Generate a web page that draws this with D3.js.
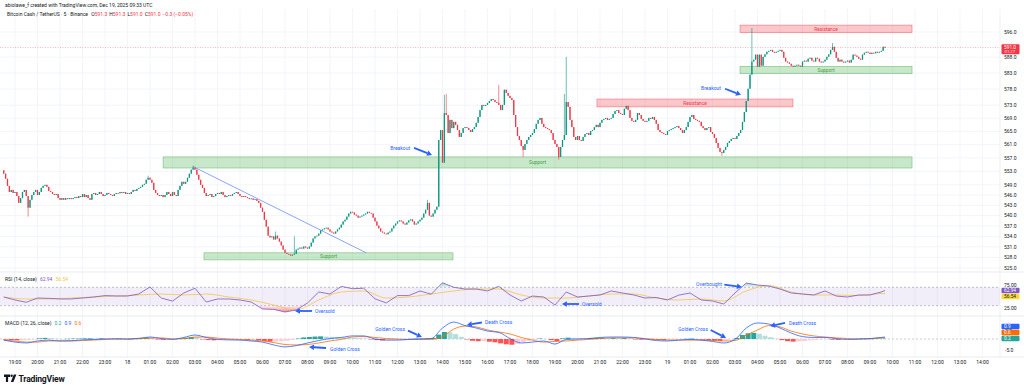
<!DOCTYPE html>
<html>
<head>
<meta charset="utf-8">
<script src="https://cdn.jsdelivr.net/npm/d3@7"></script>
<style>
  html, body { margin: 0; padding: 0; background: #fff; }
  svg { display: block; font-family: Roboto, "Liberation Sans", Arial, sans-serif; }
</style>
</head>
<body>
<svg id="chart" width="1024" height="385"></svg>
<script>
// BCH/USDT 5m closes, one row per hour (first row starts 18:30, Dec 17)
const firstOpen = 553.3;
const closes = [
  552.3, 550.8, 548.7, 546.9, 547.5, 546.6,
  546.9, 545.7, 543.7, 545.1, 546.9, 547.5, 545.7, 542.3, 544.6, 546.0, 546.9, 547.5, // 19:00
  546.0, 546.9, 548.1, 548.7, 549.0, 548.4, 547.2, 546.9, 546.3, 546.0, 546.3, 545.1,
  544.6, 545.1, 544.6, 545.1, 544.8, 545.1, 544.8, 545.1, 545.4, 545.1, 545.7, 545.4,
  546.3, 545.4, 546.0, 545.1, 544.6, 546.3, 546.6, 546.0, 546.3, 546.9, 546.3, 545.7,
  546.0, 546.6, 546.3, 546.0, 545.7, 546.3, 546.6, 546.5, 546.9, 546.6, 546.9, 546.3,
  546.6, 546.3, 546.9, 547.5, 547.2, 547.8, 548.1, 548.4, 549.0, 549.3, 550.5, 551.1, // 00:00
  550.5, 549.6, 547.5, 546.6, 546.0, 545.7, 546.0, 545.4, 546.0, 546.9, 546.3, 545.7,
  546.9, 546.0, 545.7, 547.5, 548.7, 549.9, 549.3, 549.9, 551.1, 552.3, 553.5, 554.1,
  553.5, 552.0, 550.5, 549.0, 548.1, 546.6, 545.7, 546.0, 546.3, 545.4, 545.7, 546.3,
  546.6, 546.3, 546.9, 546.0, 545.4, 545.7, 546.0, 545.8, 546.3, 546.6, 546.9, 546.3,
  545.7, 545.4, 545.7, 545.4, 545.1, 544.8, 545.0, 544.6, 544.8, 544.3, 543.7, 542.3,
  541.1, 538.8, 536.8, 534.2, 533.7, 534.0, 533.1, 534.2, 533.4, 532.5, 531.4, 530.2, // 06:00
  529.3, 529.0, 528.8, 528.5, 528.8, 529.0, 530.2, 530.5, 530.8, 530.5, 531.1, 530.8,
  530.5, 531.1, 532.2, 533.4, 534.0, 534.2, 534.8, 535.7, 536.0, 536.3, 536.5, 536.0,
  535.4, 535.1, 534.8, 535.4, 536.0, 536.5, 537.4, 538.3, 538.8, 539.7, 540.6, 541.1,
  540.9, 540.3, 540.0, 539.4, 539.7, 540.0, 540.3, 540.6, 541.1, 540.8, 540.6, 539.4,
  538.3, 537.1, 536.3, 535.4, 535.1, 534.8, 534.6, 535.1, 535.4, 536.3, 537.1, 537.7,
  538.3, 538.6, 538.3, 537.7, 537.4, 538.0, 538.6, 538.9, 538.3, 537.4, 537.7, 538.3, // 12:00
  538.8, 539.4, 540.6, 541.7, 543.7, 540.0, 539.7, 540.6, 541.7, 542.6, 562.4, 565.4,
  555.6, 570.6, 570.0, 564.5, 568.5, 566.0, 567.9, 567.0, 565.4, 563.3, 564.5, 566.0,
  566.3, 566.0, 565.4, 564.8, 565.7, 566.3, 567.6, 569.4, 571.5, 573.1, 572.8, 573.1,
  573.7, 574.3, 574.9, 574.6, 574.0, 573.7, 573.1, 571.5, 573.1, 577.8, 576.8, 575.9,
  575.2, 574.6, 570.0, 566.3, 563.6, 562.4, 560.6, 559.4, 561.2, 562.4, 563.3, 563.9,
  564.5, 565.7, 567.3, 568.5, 569.1, 567.3, 566.3, 566.0, 565.7, 565.4, 564.5, 562.4, // 18:00
  561.2, 560.3, 557.3, 560.3, 562.4, 563.9, 574.0, 572.5, 568.5, 566.3, 563.3, 562.4,
  563.6, 562.4, 562.1, 563.3, 564.2, 564.5, 563.9, 565.1, 565.4, 566.3, 567.0, 566.3,
  567.6, 568.5, 568.8, 569.1, 568.5, 568.8, 569.1, 570.3, 571.2, 571.5, 570.6, 570.3,
  570.0, 571.9, 572.8, 571.5, 569.1, 568.2, 567.9, 568.5, 570.6, 570.0, 568.8, 568.2,
  567.9, 568.2, 569.1, 568.8, 569.4, 568.5, 567.3, 565.4, 564.8, 564.5, 564.2, 563.9,
  565.1, 565.4, 565.7, 566.0, 566.3, 566.6, 566.0, 565.4, 564.5, 565.4, 566.3, 567.9, // 00:00 Dec 19
  569.4, 570.0, 568.8, 568.5, 568.2, 567.9, 566.6, 566.0, 565.4, 566.0, 566.3, 564.8,
  564.2, 563.0, 561.5, 560.0, 558.8, 558.5, 559.4, 560.3, 561.5, 562.1, 562.7, 563.0,
  562.7, 563.6, 564.5, 565.4, 567.9, 570.9, 574.3, 578.1, 582.5, 586.6, 587.2, 588.8,
  585.0, 588.8, 585.3, 588.1, 588.9, 589.7, 590.0, 590.3, 589.7, 589.4, 589.7, 590.0,
  590.3, 589.7, 587.8, 586.6, 586.3, 585.9, 585.3, 585.0, 585.3, 585.6, 585.3, 585.0,
  586.6, 586.9, 586.6, 587.5, 587.8, 586.9, 586.6, 587.8, 587.5, 586.6, 586.3, 586.6, // 06:00
  587.2, 588.1, 588.9, 590.3, 591.3, 589.7, 587.8, 586.6, 587.2, 586.6, 586.3, 586.6,
  586.9, 586.3, 587.2, 588.8, 588.5, 588.1, 587.5, 587.2, 588.8, 589.4, 589.7, 589.4,
  589.0, 589.4, 589.2, 589.7, 589.4, 589.7, 590.0, 591.3, 591.0
];
// [bar, high, low] for the candles with visible wicks
const wicks = [
  [13, null, 539.7], [77, 551.7, null], [101, 554.7, null], [145, 535.4, null],
  [155, 534.0, null], [226, 544.6, null], [235, 576.2, null], [236, 576.5, null],
  [264, 579.3, null], [277, null, 557.3], [296, null, 556.5], [299, 576.5, null],
  [300, 588.1, null], [383, null, 557.6], [399, 597.3, null], [442, 592.5, null]
];

// RSI every 6 bars, RSI-based MA every 12 bars (last value = last bar)
const rsi = [
  48.9, 42.4, 37.5, 46.7, 46.0, 44.6, 44.6, 46.7, 48.9, 52.0, 51.1, 51.0,
  55.4, 70.7, 46.7, 40.0, 57.6, 68.0, 38.0, 44.6, 44.6, 42.4, 38.0, 22.8,
  22.0, 16.3, 20.7, 35.9, 59.8, 55.4, 72.0, 67.0, 68.0, 45.0, 36.0, 52.0,
  52.0, 62.0, 55.0, 80.0, 70.0, 66.3, 66.3, 62.0, 72.0, 53.3, 40.2, 51.0,
  48.9, 31.5, 59.8, 48.9, 51.0, 53.3, 62.0, 57.6, 53.3, 46.7, 47.8, 42.4,
  53.0, 57.6, 42.4, 40.2, 33.7, 57.6, 79.3, 75.0, 72.8, 66.3, 57.6, 55.4,
  53.3, 62.0, 51.0, 48.9, 53.3, 53.3, 59.8, 62.94
];
const rsiMa = [
  48.9, 44.6, 44.6, 46.7, 48.9, 51.0, 53.3, 55.4, 53.3, 55.4, 48.9, 42.4,
  31.5, 20.7, 42.4, 59.8, 62.0, 46.7, 48.9, 55.4, 62.0, 66.3, 66.3, 53.3,
  46.7, 46.7, 51.1, 55.4, 55.4, 46.7, 42.4, 44.6, 40.2, 62.0, 74.0, 59.8,
  53.3, 53.3, 52.0, 56.5, 56.54
];

// MACD (12, 26) and signal every 6 bars, histogram every 3 bars
const macdLine = [
  -0.5, -1.4, -1.8, -0.9, -0.5, -0.9, -0.8, -0.4, -0.2, 0.0, 0.1, 0.0,
  0.3, 0.9, 0.2, -0.2, 0.7, 1.8, 0.7, -0.2, -0.4, -0.5, -0.9, -1.4,
  -2.7, -3.6, -3.0, -1.8, -0.7, 0.2, 0.7, 1.4, 1.4, 0.0, -0.5, -0.5,
  -0.2, 0.0, 0.2, 5.0, 7.7, 6.1, 5.0, 3.6, 3.0, 0.2, -1.8, -1.4,
  -0.9, -2.3, -0.2, 0.0, 0.2, 0.7, 0.9, 0.9, 0.7, 0.0, -0.7, -0.9,
  -0.5, -0.2, -0.5, -1.1, -1.8, -0.2, 5.0, 7.3, 6.8, 5.0, 2.7, 1.1,
  0.7, 0.7, 0.2, -0.2, 0.0, 0.2, 0.7, 0.9
];
const signalLine = [
  -0.5, -0.9, -1.4, -1.4, -0.9, -0.9, -0.9, -0.7, -0.5, -0.2, 0.0, 0.0,
  0.1, 0.4, 0.5, 0.1, 0.1, 0.9, 0.9, 0.4, 0.0, -0.2, -0.5, -0.9,
  -1.6, -2.5, -2.7, -2.5, -1.8, -0.9, -0.2, 0.9, 1.1, 0.7, 0.2, 0.0,
  -0.2, -0.2, -0.2, 1.1, 4.5, 5.9, 5.5, 4.1, 3.2, 2.3, 0.7, -0.5,
  -1.4, -1.1, -0.9, -0.5, -0.2, 0.2, 0.5, 0.5, 0.5, 0.2, -0.2, -0.5,
  -0.5, -0.5, -0.5, -0.7, -0.9, -0.7, 1.8, 4.1, 6.1, 5.5, 3.6, 2.3,
  1.4, 0.9, 0.5, 0.2, 0.0, 0.1, 0.5, 0.6
];
const macdHist = [
  -0.3, -0.5,
  -0.6, -0.5, -0.4, -0.2,   0.3, 0.5, 0.4, 0.2,   0.0, 0.1, 0.2, 0.2,
  0.3, 0.3, 0.2, 0.3,       0.2, 0.1, 0.1, 0.0,   0.0, 0.2, 0.3, 0.6,
  0.4, -0.2, -0.4, -0.3,    -0.3, 0.3, 0.6, 0.9,  0.8, -0.2, -0.5, -0.6,
  -0.5, -0.4, -0.4, -0.3,   -0.3, -0.4, -0.4, -0.6, -0.9, -1.2, -1.1, -1.0,
  -0.8, -0.4, 0.2, 0.7,     0.9, 1.1, 1.2, 1.1,   1.0, 0.9, 0.7, 0.6,
  0.5, 0.4, 0.2, -0.2,      -0.5, -0.6, -0.5, -0.4, -0.2, 0.0, 0.1, 0.2,
  0.2, 0.3, 0.5, 2.0,       3.2, 3.0, 2.2, 1.0,   -0.2, -0.8, -1.0, -0.9,
  -1.2, -1.5, -2.0, -2.4,   -2.6, -2.2, -1.5, -0.8, -0.4, 0.2, 0.1, -0.5,
  -1.0, 0.3, 0.6, 0.5,      0.4, 0.3, 0.4, 0.5,   0.5, 0.4, 0.4, 0.3,
  0.4, 0.2, -0.2, -0.3,     -0.2, -0.3, -0.4, -0.5, -0.4, -0.3, -0.2, 0.1,
  0.2, 0.0, -0.3, -0.5,     -0.8, -0.9, -0.6, -0.2, 0.5, 1.8, 2.6, 2.8,
  2.4, 1.5, 0.8, 0.2,       -0.5, -1.0, -1.2, -1.1, -0.9, -0.6, -0.4, -0.2,
  -0.1, -0.3, -0.4, -0.3,   -0.2, 0.0, 0.1, 0.1,  0.1, 0.2, 0.2
];

const priceTicks = [596, 588, 583, 578, 573, 569, 565, 561, 557, 553, 549, 546, 543, 540, 537, 534, 531, 528, 525];
const timeLabels = [
  "19:00", "20:00", "21:00", "22:00", "23:00", "18", "01:00", "02:00", "03:00", "04:00", "05:00",
  "06:00", "07:00", "08:00", "09:00", "10:00", "11:00", "12:00", "13:00", "14:00", "15:00", "16:00",
  "17:00", "18:00", "19:00", "20:00", "21:00", "22:00", "23:00", "19", "01:00", "02:00", "03:00",
  "04:00", "05:00", "06:00", "07:00", "08:00", "09:00", "10:00", "11:00", "12:00", "13:00", "14:00"
];

// drawings: zones in bar index / price
const zones = [
  { kind: "support", from: 85, to: 484.4, top: 557.3, bottom: 554.0, label: "Support" },
  { kind: "support", from: 106.8, to: 239.6, top: 529.3, bottom: 527.3, label: "Support" },
  { kind: "support", from: 392.7, to: 484.4, top: 585.1, bottom: 582.8, label: "Support" },
  { kind: "resistance", from: 316.4, to: 420.9, top: 574.9, bottom: 572.5, label: "Resistance" },
  { kind: "resistance", from: 392.7, to: 484.4, top: 598.2, bottom: 595.8, label: "Resistance" }
];
const trendLine = [[101, 554.4], [193.3, 529.3]];
const notes = [
  { pane: "main", text: "Breakout", at: [216.7, 560.0], anchor: "end", from: [218.8, 560.0], to: [228.4, 557.9] },
  { pane: "main", text: "Breakout", at: [382.5, 578.1], anchor: "end", from: [384.7, 578.1], to: [393.2, 576.2] },
  { pane: "rsi", text: "Oversold", at: [166, 18.5], anchor: "start", from: [164.4, 18.5], to: [155.3, 18.5] },
  { pane: "rsi", text: "Oversold", at: [308.4, 33.7], anchor: "start", from: [306.8, 33.7], to: [297.7, 33.7] },
  { pane: "rsi", text: "Overbought", at: [383, 76], anchor: "end", from: [384.3, 76], to: [393.7, 70.7] },
  { pane: "macd", text: "Golden Cross", at: [174, -4.5], anchor: "start", from: [171.9, -4.1], to: [162.8, -3.6] },
  { pane: "macd", text: "Golden Cross", at: [214, 4.3], anchor: "end", from: [215.6, 3.8], to: [223, 0.9] },
  { pane: "macd", text: "Death Cross", at: [256.7, 7.7], anchor: "start", from: [255, 7.5], to: [247, 6.4] },
  { pane: "macd", text: "Golden Cross", at: [375.6, 4.5], anchor: "end", from: [377, 4.1], to: [385.2, 0.5] },
  { pane: "macd", text: "Death Cross", at: [418.8, 7.3], anchor: "start", from: [416.7, 7.3], to: [408.7, 5.9] }
];

const up = "#089981", down = "#f23645", blue = "#2962ff";
const axisX = 1000;
const mainPane = { top: 9, bottom: 272 };
const rsiPane = { top: 272, bottom: 316 };
const macdPane = { top: 316, bottom: 357 };
const last = closes.length - 1;

const svg = d3.select("#chart");
const defs = svg.append("defs");

const x = d3.scaleLinear([0, last], [3.75, 885]);
const y = d3.scaleLog([596, 525], [32, 268]);
const yRsi = d3.scaleLinear([75, 25], [285, 308]);
const yMacd = d3.scaleLinear([5, -5], [328, 350]);
const yFor = { main: y, rsi: yRsi, macd: yMacd };

function clip(id, y0, y1) {
  defs.append("clipPath").attr("id", id)
    .append("rect").attr("x", 0).attr("y", y0).attr("width", axisX).attr("height", y1 - y0);
}
clip("clip-main", mainPane.top, mainPane.bottom);
clip("clip-low", yRsi(30), rsiPane.bottom);
clip("clip-high", rsiPane.top, yRsi(70));

// grid
const grid = svg.append("g");
grid.selectAll("line.v").data(timeLabels).join("line").attr("class", "v")
  .attr("x1", (d, i) => x(6 + 12 * i)).attr("x2", (d, i) => x(6 + 12 * i))
  .attr("y1", mainPane.top).attr("y2", macdPane.bottom)
  .attr("stroke", "#f0f3fa").attr("stroke-width", 0.8);
grid.selectAll("line.h").data(priceTicks).join("line").attr("class", "h")
  .attr("x1", 0).attr("x2", axisX)
  .attr("y1", d => y(d)).attr("y2", d => y(d))
  .attr("stroke", "#f0f3fa").attr("stroke-width", 0.8);

// pane borders
[mainPane.bottom, rsiPane.bottom, macdPane.bottom].forEach(v => {
  svg.append("line").attr("x1", 0).attr("x2", 1024).attr("y1", v).attr("y2", v)
    .attr("stroke", "#e0e3eb").attr("stroke-width", 0.7);
});
svg.append("line").attr("x1", axisX).attr("x2", axisX).attr("y1", mainPane.top).attr("y2", macdPane.bottom)
  .attr("stroke", "#e0e3eb").attr("stroke-width", 0.5);

// ---- main pane ----
const main = svg.append("g").attr("clip-path", "url(#clip-main)");

const zoneG = main.append("g");
zones.forEach(z => {
  const green = z.kind === "support";
  zoneG.append("rect")
    .attr("x", x(z.from)).attr("width", x(z.to) - x(z.from))
    .attr("y", y(z.top)).attr("height", y(z.bottom) - y(z.top))
    .attr("fill", green ? "rgba(76,175,80,0.3)" : "rgba(242,54,69,0.28)")
    .attr("stroke", green ? "#81c784" : "#f77c80").attr("stroke-width", 0.7);
  zoneG.append("text")
    .attr("x", (x(z.from) + x(z.to)) / 2).attr("y", (y(z.top) + y(z.bottom)) / 2 + 1.7)
    .attr("text-anchor", "middle").attr("font-size", 4.8)
    .attr("fill", green ? "#43a047" : "#f23645")
    .text(z.label);
});

main.append("line")
  .attr("x1", x(trendLine[0][0])).attr("y1", y(trendLine[0][1]))
  .attr("x2", x(trendLine[1][0])).attr("y2", y(trendLine[1][1]))
  .attr("stroke", "#6d8ff5").attr("stroke-width", 0.8);

const candles = closes.map((c, i) => {
  const o = i === 0 ? firstOpen : closes[i - 1];
  return { i, o, c, h: Math.max(o, c), l: Math.min(o, c) };
});
wicks.forEach(([i, hi, lo]) => {
  if (hi != null) candles[i].h = hi;
  if (lo != null) candles[i].l = lo;
});
const colorOf = d => d.c >= d.o ? up : down;

main.append("g").selectAll("line").data(candles).join("line")
  .attr("x1", d => x(d.i)).attr("x2", d => x(d.i))
  .attr("y1", d => y(d.h)).attr("y2", d => y(d.l))
  .attr("stroke", colorOf).attr("stroke-width", 0.6);
main.append("g").selectAll("rect").data(candles).join("rect")
  .attr("x", d => x(d.i) - 0.65).attr("width", 1.3)
  .attr("y", d => y(Math.max(d.o, d.c)))
  .attr("height", d => Math.max(0.8, y(Math.min(d.o, d.c)) - y(Math.max(d.o, d.c))))
  .attr("fill", colorOf);

// last price line
const lastPrice = closes[last];
svg.append("line").attr("x1", 0).attr("x2", axisX)
  .attr("y1", y(lastPrice)).attr("y2", y(lastPrice))
  .attr("stroke", down).attr("stroke-width", 0.6).attr("stroke-dasharray", "1,1.5").attr("opacity", 0.7);

// ---- RSI pane ----
const rsiPts = rsi.map((v, k) => [Math.min(k * 6, last), v]);
const maPts = rsiMa.map((v, k) => [Math.min(k * 12, last), v]);

svg.append("rect").attr("x", 0).attr("width", axisX)
  .attr("y", yRsi(70)).attr("height", yRsi(30) - yRsi(70))
  .attr("fill", "rgba(126,87,194,0.1)");
[70, 30].forEach(v => {
  svg.append("line").attr("x1", 0).attr("x2", axisX).attr("y1", yRsi(v)).attr("y2", yRsi(v))
    .attr("stroke", "#9598a1").attr("stroke-width", 0.6).attr("stroke-dasharray", "2,2");
});

function gradient(id, color, y0, y1) {
  const g = defs.append("linearGradient").attr("id", id)
    .attr("gradientUnits", "userSpaceOnUse").attr("x1", 0).attr("x2", 0).attr("y1", y0).attr("y2", y1);
  g.append("stop").attr("offset", 0).attr("stop-color", color).attr("stop-opacity", 0.05);
  g.append("stop").attr("offset", 1).attr("stop-color", color).attr("stop-opacity", 0.75);
}
gradient("g-low", "#f23645", yRsi(30), yRsi(12));
gradient("g-high", "#089981", yRsi(70), yRsi(88));

svg.append("path").datum(rsiPts).attr("clip-path", "url(#clip-low)")
  .attr("fill", "url(#g-low)")
  .attr("d", d3.area().x(d => x(d[0])).y0(yRsi(30)).y1(d => yRsi(d[1])));
svg.append("path").datum(rsiPts).attr("clip-path", "url(#clip-high)")
  .attr("fill", "url(#g-high)")
  .attr("d", d3.area().x(d => x(d[0])).y0(yRsi(70)).y1(d => yRsi(d[1])));

svg.append("path").datum(maPts).attr("fill", "none")
  .attr("stroke", "#f5c542").attr("stroke-width", 0.8)
  .attr("d", d3.line().x(d => x(d[0])).y(d => yRsi(d[1])).curve(d3.curveMonotoneX));
svg.append("path").datum(rsiPts).attr("fill", "none")
  .attr("stroke", "#7e57c2").attr("stroke-width", 0.8)
  .attr("d", d3.line().x(d => x(d[0])).y(d => yRsi(d[1])));

// ---- MACD pane ----
svg.append("line").attr("x1", 0).attr("x2", axisX).attr("y1", yMacd(0)).attr("y2", yMacd(0))
  .attr("stroke", "#9598a1").attr("stroke-width", 0.5).attr("stroke-dasharray", "2,2");

const hist = macdHist.map((v, j) => ({ i: j * 3, v, prev: j ? macdHist[j - 1] : 0 }));
svg.append("g").selectAll("rect").data(hist).join("rect")
  .attr("x", d => x(d.i + 1) - 2.5).attr("width", 5)
  .attr("y", d => Math.min(yMacd(0), yMacd(d.v)))
  .attr("height", d => Math.max(0.4, Math.abs(yMacd(d.v) - yMacd(0))))
  .attr("fill", d => d.v >= 0 ? (d.v >= d.prev ? "#26a69a" : "#b2dfdb") : (d.v < d.prev ? "#ff5252" : "#ffcdd2"));

const macdPts = macdLine.map((v, k) => [Math.min(k * 6, last), v]);
const sigPts = signalLine.map((v, k) => [Math.min(k * 6, last), v]);
const lineM = d3.line().x(d => x(d[0])).y(d => yMacd(d[1])).curve(d3.curveMonotoneX);
svg.append("path").datum(sigPts).attr("fill", "none").attr("stroke", "#ff6d00").attr("stroke-width", 0.8).attr("d", lineM);
svg.append("path").datum(macdPts).attr("fill", "none").attr("stroke", blue).attr("stroke-width", 0.8).attr("d", lineM);

// ---- notes with arrows ----
function arrow(g, x1, y1, x2, y2) {
  const a = Math.atan2(y2 - y1, x2 - x1);
  const len = 5, half = 2.8;
  const bx = x2 - len * Math.cos(a), by = y2 - len * Math.sin(a);
  g.append("line").attr("x1", x1).attr("y1", y1).attr("x2", bx).attr("y2", by)
    .attr("stroke", blue).attr("stroke-width", 1.8);
  g.append("path")
    .attr("d", `M${x2},${y2}L${bx - half * Math.sin(a)},${by + half * Math.cos(a)}L${bx + half * Math.sin(a)},${by - half * Math.cos(a)}Z`)
    .attr("fill", blue);
}
const noteG = svg.append("g");
notes.forEach(n => {
  const sy = yFor[n.pane];
  noteG.append("text")
    .attr("x", x(n.at[0])).attr("y", sy(n.at[1]) + 1.7)
    .attr("text-anchor", n.anchor).attr("font-size", 5).attr("fill", blue)
    .text(n.text);
  arrow(noteG, x(n.from[0]), sy(n.from[1]), x(n.to[0]), sy(n.to[1]));
});

// ---- axes ----
const axisG = svg.append("g").attr("font-size", 5).attr("fill", "#131722");
axisG.selectAll("text.p").data(priceTicks).join("text").attr("class", "p")
  .attr("x", 1004).attr("y", d => y(d) + 1.8).text(d => d.toFixed(1));
axisG.selectAll("text.t").data(timeLabels).join("text").attr("class", "t")
  .attr("x", (d, i) => x(6 + 12 * i)).attr("y", 363.5).attr("text-anchor", "middle").text(d => d);
[75, 25].forEach(v => {
  axisG.append("text").attr("x", 1004).attr("y", yRsi(v) + 1.8).text(v.toFixed(2));
});
[5, -5].forEach(v => {
  axisG.append("text").attr("x", 1005).attr("y", yMacd(v) + 1.8).text(v.toFixed(1));
});

function tag(yc, label, bg, fg, h) {
  svg.append("rect").attr("x", 1001.5).attr("y", yc - h / 2).attr("width", 18).attr("height", h)
    .attr("rx", 1).attr("fill", bg);
  svg.append("text").attr("x", 1004).attr("y", yc + 1.7).attr("font-size", 4.8).attr("fill", fg).text(label);
}
// last price tag
svg.append("rect").attr("x", 1001.5).attr("y", y(lastPrice) - 3.5).attr("width", 18).attr("height", 10)
  .attr("rx", 1).attr("fill", down);
svg.append("text").attr("x", 1004).attr("y", y(lastPrice) + 1.2).attr("font-size", 4.8).attr("fill", "#fff").text(lastPrice.toFixed(1));
svg.append("text").attr("x", 1004.5).attr("y", y(lastPrice) + 5.6).attr("font-size", 4.3).attr("fill", "#fff").attr("opacity", 0.85).text("01:27");

const rsiLast = rsi[rsi.length - 1], maLast = rsiMa[rsiMa.length - 1];
tag(yRsi(rsiLast), rsiLast.toFixed(2), "#7e57c2", "#fff", 5.6);
tag(yRsi(rsiLast) + 6, maLast.toFixed(2), "#fdd835", "#131722", 5.6);
const histLast = 0.2, macdLast = macdLine[macdLine.length - 1], sigLast = signalLine[signalLine.length - 1];
tag(yMacd(histLast), histLast.toFixed(1), "#26a69a", "#fff", 5.6);
tag(yMacd(histLast) - 6, sigLast.toFixed(1), "#ff6d00", "#fff", 5.6);
tag(yMacd(histLast) - 12, macdLast.toFixed(1), blue, "#fff", 5.6);

// ---- legends / header ----
svg.append("text").attr("x", 5).attr("y", 6.6).attr("font-size", 5).attr("fill", "#131722")
  .text("abiolawe_f created with TradingView.com, Dec 19, 2025 09:33 UTC");
const sym = svg.append("text").attr("x", 7).attr("y", 15.8).attr("font-size", 5).attr("fill", "#131722");
sym.append("tspan").text("Bitcoin Cash / TetherUS · 5 · Binance ");
[["O", "591.3"], ["H", "591.3"], ["L", "591.0"], ["C", "591.0"]].forEach(([k, v]) => {
  sym.append("tspan").attr("dx", 2).text(k);
  sym.append("tspan").attr("fill", down).text(v);
});
sym.append("tspan").attr("dx", 2).attr("fill", down).text("−0.3 (−0.05%)");

const rsiLegend = svg.append("text").attr("x", 5).attr("y", 281).attr("font-size", 5).attr("fill", "#131722");
rsiLegend.append("tspan").text("RSI (14, close)");
rsiLegend.append("tspan").attr("dx", 3).attr("fill", "#7e57c2").text(rsiLast.toFixed(2));
rsiLegend.append("tspan").attr("dx", 3).attr("fill", "#f5c542").text(maLast.toFixed(2));

const macdLegend = svg.append("text").attr("x", 5).attr("y", 325).attr("font-size", 5).attr("fill", "#131722");
macdLegend.append("tspan").text("MACD (12, 26, close)");
macdLegend.append("tspan").attr("dx", 3).attr("fill", "#26a69a").text(histLast.toFixed(1));
macdLegend.append("tspan").attr("dx", 3).attr("fill", blue).text(macdLast.toFixed(1));
macdLegend.append("tspan").attr("dx", 3).attr("fill", "#ff6d00").text(sigLast.toFixed(1));

// TradingView logo
const logo = svg.append("g").attr("fill", "#131722");
logo.append("path").attr("d", "M4,374.5h6v2.4h-1.9v5.1h-2.2v-5.1h-1.9z");
logo.append("circle").attr("cx", 11.6).attr("cy", 375.7).attr("r", 1.2);
logo.append("path").attr("d", "M13.8,374.5h2.6l-3,7.5h-2.6z");
logo.append("text").attr("x", 18.5).attr("y", 381.5).attr("font-size", 8.6).attr("font-weight", 700)
  .attr("letter-spacing", -0.2).text("TradingView");
</script>
</body>
</html>
